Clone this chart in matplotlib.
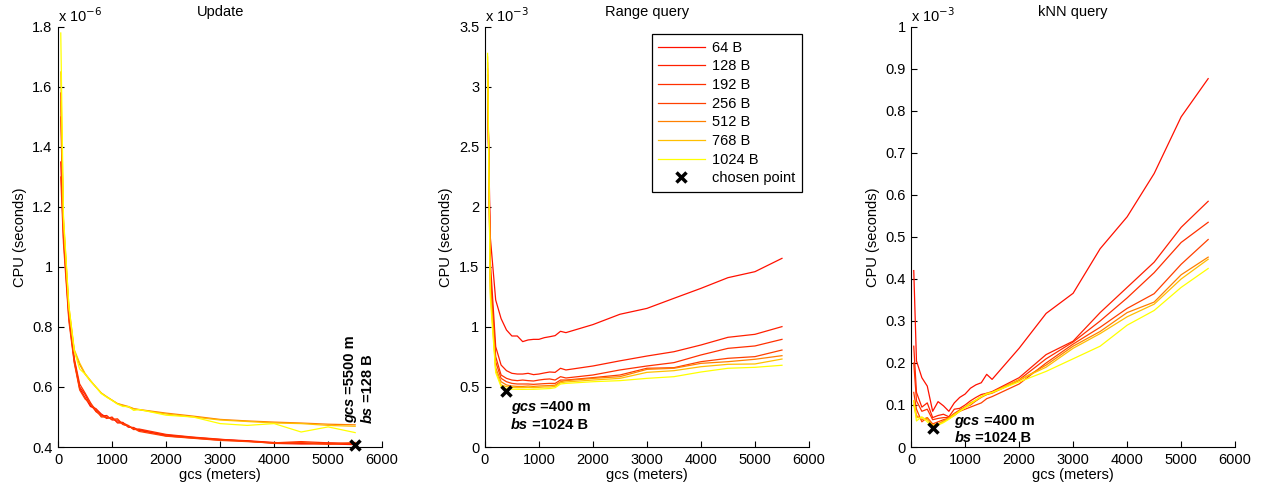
import matplotlib
matplotlib.use("Agg")
import matplotlib.pyplot as plt
from matplotlib.ticker import FormatStrFormatter, MultipleLocator

plt.rcParams['font.family'] = ['Liberation Sans', 'DejaVu Sans']
plt.rcParams['font.size'] = 10

# grid cell size (meters)
gcs = [50, 100, 200, 300, 400, 500, 600, 700, 800, 900, 1000, 1100, 1200,
       1300, 1400, 1500, 2000, 2500, 3000, 3500, 4000, 4500, 5000, 5500]

block_labels = ['64 B', '128 B', '192 B', '256 B', '512 B', '768 B', '1024 B']
block_bytes = [64, 128, 192, 256, 512, 768, 1024]

# Update CPU cost (x 1e-6 s)
update_64 = [1.35, 1.10, 0.83, 0.685, 0.595, 0.565, 0.535, 0.528, 0.510, 0.498, 0.497, 0.483,
             0.482, 0.466, 0.465, 0.455, 0.440, 0.432, 0.425, 0.421, 0.415, 0.412, 0.413, 0.410]
update_128 = [1.58, 1.14, 0.85, 0.690, 0.600, 0.575, 0.540, 0.520, 0.503, 0.505, 0.490, 0.490,
              0.475, 0.470, 0.460, 0.458, 0.437, 0.430, 0.423, 0.420, 0.412, 0.410, 0.410, 0.408]
update_192 = [1.50, 1.12, 0.84, 0.695, 0.610, 0.580, 0.548, 0.518, 0.507, 0.495, 0.500, 0.480,
              0.480, 0.472, 0.458, 0.460, 0.442, 0.433, 0.426, 0.419, 0.414, 0.418, 0.414, 0.412]
update_256 = [1.30, 1.08, 0.82, 0.680, 0.590, 0.560, 0.545, 0.525, 0.500, 0.500, 0.492, 0.494,
              0.476, 0.470, 0.462, 0.452, 0.436, 0.429, 0.422, 0.418, 0.413, 0.415, 0.409, 0.415]
update_512 = [1.55, 1.15, 0.86, 0.720, 0.675, 0.643, 0.620, 0.600, 0.580, 0.567, 0.556, 0.545,
              0.540, 0.535, 0.528, 0.525, 0.513, 0.503, 0.492, 0.487, 0.483, 0.480, 0.476, 0.474]
update_768 = [1.65, 1.16, 0.87, 0.725, 0.680, 0.645, 0.622, 0.600, 0.580, 0.568, 0.556, 0.544,
              0.538, 0.533, 0.527, 0.524, 0.510, 0.500, 0.490, 0.485, 0.480, 0.478, 0.472, 0.469]
update_1024 = [1.78, 1.17, 0.87, 0.720, 0.660, 0.643, 0.620, 0.600, 0.578, 0.566, 0.555, 0.543,
               0.535, 0.535, 0.522, 0.525, 0.506, 0.500, 0.478, 0.472, 0.478, 0.450, 0.467, 0.448]

# Range query CPU cost (x 1e-3 s)
range_64 = [3.00, 1.75, 1.225, 1.070, 0.975, 0.925, 0.925, 0.878, 0.892, 0.897, 0.897, 0.911,
            0.919, 0.928, 0.964, 0.953, 1.020, 1.106, 1.155, 1.239, 1.322, 1.411, 1.461, 1.572]
range_128 = [3.05, 1.55, 0.836, 0.683, 0.636, 0.614, 0.608, 0.608, 0.614, 0.603, 0.608, 0.617,
             0.625, 0.622, 0.656, 0.642, 0.675, 0.718, 0.758, 0.794, 0.850, 0.914, 0.939, 1.003]
range_192 = [3.10, 1.45, 0.753, 0.600, 0.572, 0.558, 0.553, 0.558, 0.553, 0.550, 0.558, 0.564,
             0.567, 0.558, 0.586, 0.575, 0.600, 0.642, 0.675, 0.703, 0.767, 0.822, 0.842, 0.897]
range_256 = [3.15, 1.40, 0.710, 0.572, 0.544, 0.530, 0.525, 0.525, 0.525, 0.522, 0.525, 0.528,
             0.530, 0.530, 0.558, 0.558, 0.578, 0.600, 0.656, 0.661, 0.711, 0.739, 0.753, 0.808]
range_512 = [3.20, 1.35, 0.660, 0.544, 0.517, 0.508, 0.505, 0.505, 0.508, 0.505, 0.508, 0.510,
             0.512, 0.515, 0.544, 0.553, 0.572, 0.586, 0.647, 0.656, 0.697, 0.711, 0.731, 0.761]
range_768 = [3.25, 1.30, 0.640, 0.517, 0.503, 0.497, 0.495, 0.495, 0.497, 0.495, 0.497, 0.500,
             0.500, 0.505, 0.536, 0.542, 0.558, 0.572, 0.622, 0.636, 0.669, 0.689, 0.692, 0.733]
range_1024 = [3.28, 1.25, 0.620, 0.503, 0.485, 0.481, 0.481, 0.480, 0.481, 0.481, 0.483, 0.485,
              0.487, 0.494, 0.525, 0.530, 0.544, 0.553, 0.572, 0.586, 0.625, 0.656, 0.664, 0.681]

# kNN query CPU cost (x 1e-3 s)
knn_64 = [0.420, 0.205, 0.165, 0.145, 0.085, 0.108, 0.098, 0.085, 0.105, 0.118, 0.126, 0.140,
          0.148, 0.153, 0.173, 0.161, 0.235, 0.318, 0.366, 0.472, 0.548, 0.651, 0.786, 0.877]
knn_128 = [0.240, 0.130, 0.095, 0.105, 0.070, 0.075, 0.078, 0.072, 0.090, 0.092, 0.100, 0.110,
           0.118, 0.125, 0.128, 0.132, 0.165, 0.220, 0.252, 0.320, 0.380, 0.440, 0.523, 0.585]
knn_192 = [0.200, 0.110, 0.085, 0.090, 0.065, 0.068, 0.070, 0.070, 0.080, 0.088, 0.095, 0.100,
           0.110, 0.120, 0.125, 0.130, 0.160, 0.210, 0.250, 0.300, 0.355, 0.415, 0.487, 0.535]
knn_256 = [0.130, 0.090, 0.060, 0.070, 0.055, 0.060, 0.065, 0.068, 0.075, 0.085, 0.090, 0.095,
           0.100, 0.105, 0.115, 0.120, 0.150, 0.200, 0.245, 0.285, 0.330, 0.365, 0.435, 0.494]
knn_512 = [0.110, 0.075, 0.065, 0.070, 0.050, 0.055, 0.062, 0.070, 0.078, 0.088, 0.095, 0.105,
           0.110, 0.118, 0.125, 0.128, 0.158, 0.195, 0.240, 0.275, 0.320, 0.345, 0.410, 0.452]
knn_768 = [0.100, 0.070, 0.070, 0.065, 0.052, 0.055, 0.060, 0.068, 0.078, 0.085, 0.095, 0.105,
           0.112, 0.120, 0.128, 0.130, 0.160, 0.190, 0.235, 0.270, 0.310, 0.340, 0.400, 0.447]
knn_1024 = [0.110, 0.062, 0.072, 0.060, 0.048, 0.052, 0.058, 0.066, 0.075, 0.085, 0.093, 0.102,
            0.112, 0.120, 0.126, 0.130, 0.155, 0.180, 0.210, 0.240, 0.290, 0.325, 0.380, 0.425]

# chosen configurations: (gcs, block size label, cpu)
update_choice = (5500, '128 B', 0.408)
range_choice = (400, '1024 B', 0.469)
knn_choice = (400, '1024 B', 0.045)

panels = [
    dict(title='Update', exp='-6', ylim=(0.4, 1.8), ystep=0.2,
         series=[update_64, update_128, update_192, update_256, update_512, update_768, update_1024],
         choice=update_choice, rotated=True, text_xy=(5270, 0.48), text_dx=340),
    dict(title='Range query', exp='-3', ylim=(0, 3.5), ystep=0.5,
         series=[range_64, range_128, range_192, range_256, range_512, range_768, range_1024],
         choice=range_choice, rotated=False, text_xy=(480, 0.333), text_dy=0.15),
    dict(title='kNN query', exp='-3', ylim=(0, 1.0), ystep=0.1,
         series=[knn_64, knn_128, knn_192, knn_256, knn_512, knn_768, knn_1024],
         choice=knn_choice, rotated=False, text_xy=(802, 0.0626), text_dy=0.04),
]

# autumn colormap indexed by block size
colors = [(1.0, b / 1024.0, 0.0) for b in block_bytes]

fig = plt.figure(figsize=(12.76, 4.93), dpi=100)
lefts = [0.0455, 0.380, 0.714]
axes = [fig.add_axes([l, 0.0933, 0.254, 0.852]) for l in lefts]


def label_pair(ax, x, y, name, rest, rotated):
    kw = dict(fontsize=10.5, fontweight='bold')
    if rotated:
        t = ax.text(x, y, name, rotation=90, ha='left', va='bottom', fontstyle='italic', **kw)
        ax.annotate(rest, xy=(0.5, 1), xycoords=t, rotation=90, ha='center', va='bottom', **kw)
    else:
        t = ax.text(x, y, name, ha='left', va='center', fontstyle='italic', **kw)
        ax.annotate(rest, xy=(1, 0.5), xycoords=t, ha='left', va='center', **kw)


for ax, p in zip(axes, panels):
    for vals, lab, col in zip(p['series'], block_labels, colors):
        ax.plot(gcs, vals, color=col, lw=0.9, label=lab)
    cx, cbs, cy = p['choice']
    ax.plot([cx], [cy], 'x', color='black', ms=7, mew=2.5, label='chosen point',
            clip_on=False, zorder=5)

    ax.set_xlim(0, 6000)
    ax.set_ylim(*p['ylim'])
    ax.xaxis.set_major_locator(MultipleLocator(1000))
    ax.yaxis.set_major_locator(MultipleLocator(p['ystep']))
    ax.yaxis.set_major_formatter(FormatStrFormatter('%g'))
    ax.spines['top'].set_visible(False)
    ax.spines['right'].set_visible(False)
    for s in ('left', 'bottom'):
        ax.spines[s].set_linewidth(0.8)
    ax.tick_params(direction='in', length=4, width=0.8, labelsize=10.5, pad=4)
    ax.set_xlabel('gcs (meters)', fontsize=10.5, labelpad=1)
    ax.set_ylabel('CPU (seconds)', fontsize=10.5, labelpad=4)
    ax.set_title(p['title'], fontsize=10.5, pad=8)
    ax.text(0.0, 1.005, r'x 10$^{' + p['exp'] + '}$', transform=ax.transAxes,
            ha='left', va='bottom', fontsize=10.5)

    tx, ty = p['text_xy']
    gtxt = ' =%d m' % cx
    btxt = ' =%s' % cbs
    if p['rotated']:
        label_pair(ax, tx, ty, 'gcs', gtxt, True)
        label_pair(ax, tx + p['text_dx'], ty, 'bs', btxt, True)
    else:
        label_pair(ax, tx, ty, 'gcs', gtxt, False)
        label_pair(ax, tx, ty - p['text_dy'], 'bs', btxt, False)

leg = axes[1].legend(loc='upper right', bbox_to_anchor=(0.978, 0.983), frameon=True,
                     fancybox=False, edgecolor='black', framealpha=1, fontsize=10.5,
                     handlelength=3.2, handletextpad=0.5, labelspacing=0.32,
                     borderpad=0.45, borderaxespad=0)
leg.get_frame().set_linewidth(0.9)

fig.savefig('out.png', dpi=100)
